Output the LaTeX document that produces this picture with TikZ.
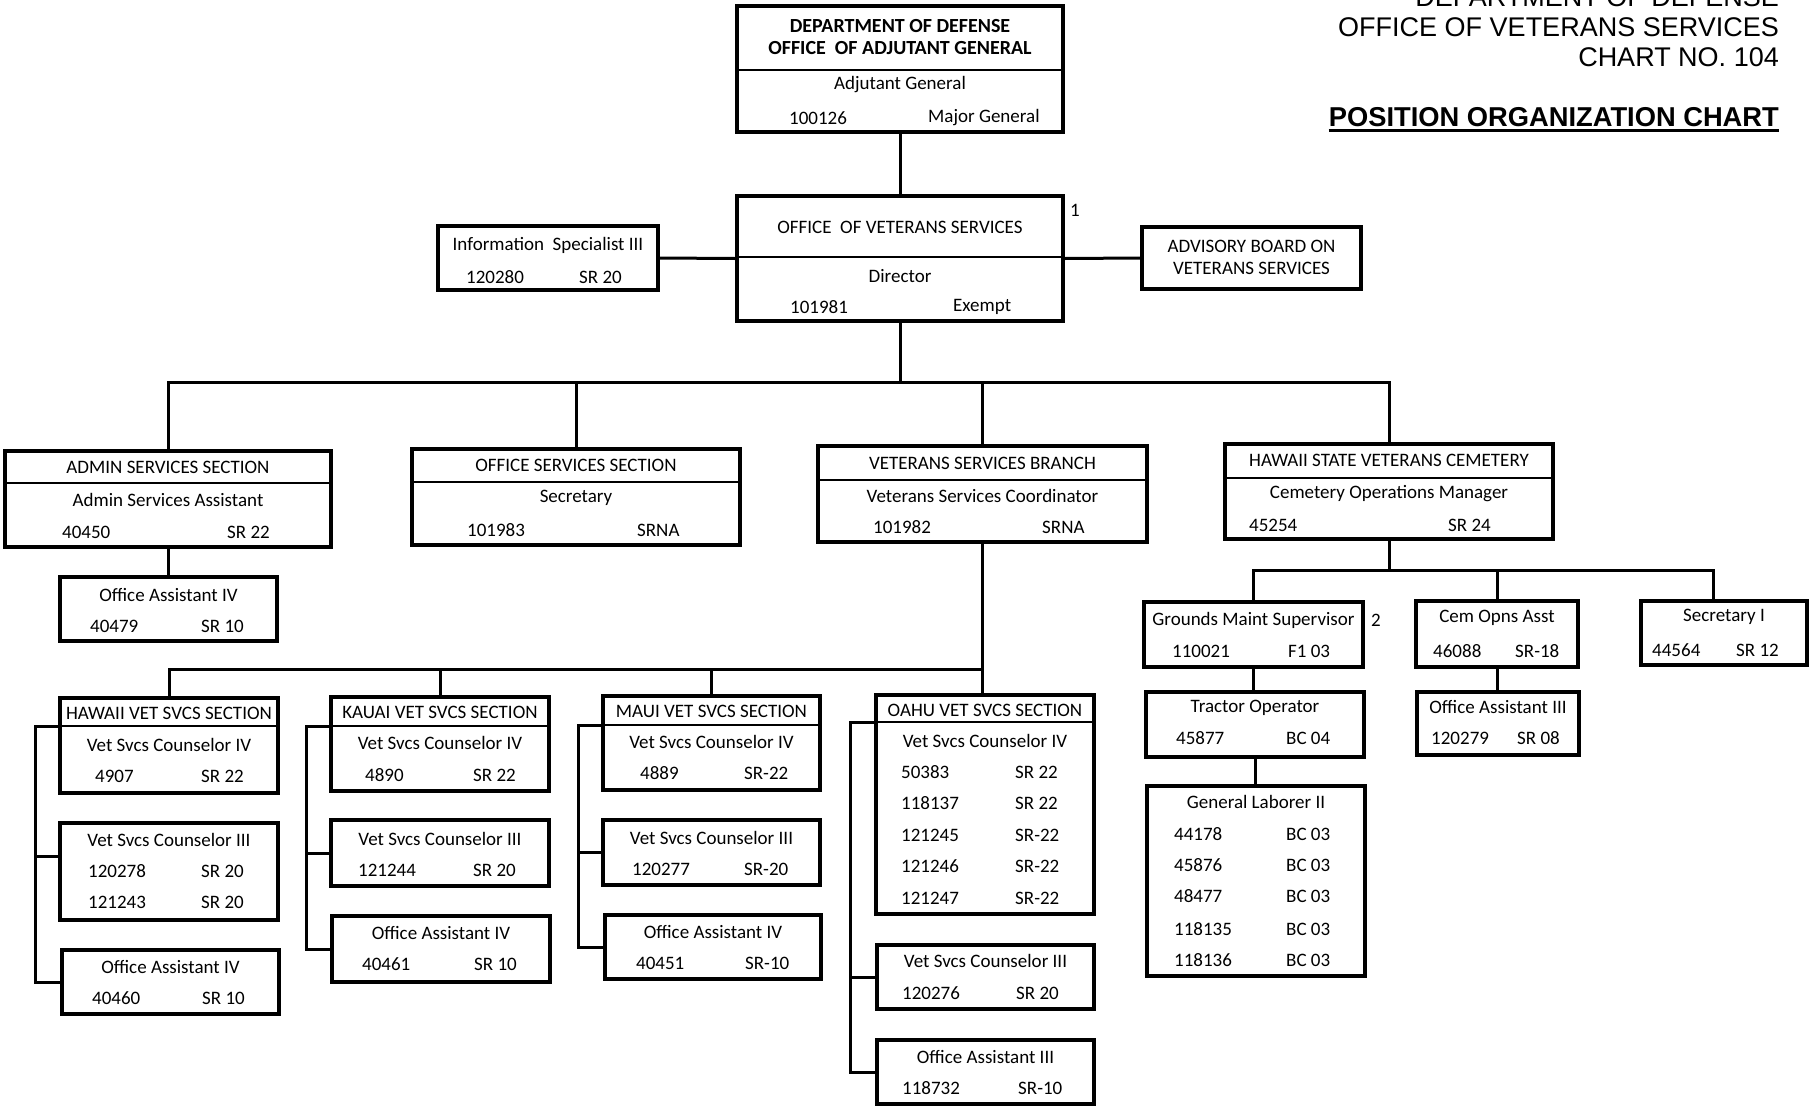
\documentclass[tikz,border=0pt]{standalone}
\usepackage{fontspec}
\setmainfont{Carlito}
\newfontfamily\arialfont{Liberation Sans}
\usetikzlibrary{fit}

\tikzset{
  posbox/.style={draw, line width=3.2pt, inner sep=0pt},
  link/.style={line width=3pt},
  rule/.style={line width=1.6pt},
  txt/.style={inner sep=0pt, font=\fontsize{19}{20}\selectfont},
  num/.style={txt, anchor=west},
  ttl/.style={inner sep=0pt, font=\bfseries\fontsize{20}{21}\selectfont},
  hdr/.style={inner sep=0pt, anchor=east, font=\arialfont\fontsize{27}{30}\selectfont},
}

\begin{document}
\begin{tikzpicture}[x=1pt, y=-1pt]
\useasboundingbox (0,0) rectangle (1809,1106);
\fill[white] (0,0) rectangle (1809,1106);

% chart header
\node[hdr] (hdr0) at (1779,-3) {DEPARTMENT OF DEFENSE};
\node[hdr] (hdr1) at (1779,27) {OFFICE OF VETERANS SERVICES};
\node[hdr] (hdr2) at (1779,57) {CHART NO. 104};
\node[hdr, font=\arialfont\bfseries\fontsize{27.3}{30}\selectfont] (hdr3) at (1779,117) {POSITION ORGANIZATION CHART};
\draw[rule, line width=2.2pt] ([yshift=-4pt]hdr3.base west) -- ([yshift=-4pt]hdr3.base east);

% adjutant general
\node[posbox, fit={(737,6) (1063,132)}] (adjgen) {};
\draw[rule] (737,70) -- (1063,70);
\node[ttl] (adjgen-t1) at (900,26.5) {DEPARTMENT OF DEFENSE};
\node[ttl] (adjgen-t2) at (900,48.5) {OFFICE\ \ OF ADJUTANT GENERAL};
\node[txt] (adjgen-p) at (900,85) {Adjutant General};
\node[num] (adjgen-n) at (789,118) {100126};
\node[num] (adjgen-g) at (928,118) {Major General};

% office of veterans services
\node[posbox, fit={(737,196) (1063,321)}] (ovs) {};
\draw[rule] (737,257) -- (1063,257);
\node[txt] (ovs-t) at (900,227) {OFFICE\ \ OF VETERANS SERVICES};
\node[txt] (ovs-p) at (900,276) {Director};
\node[num] (ovs-n) at (790,307) {101981};
\node[num] (ovs-g) at (953,307) {Exempt};
\node[txt] (note1) at (1075,210) {1};

\node[posbox, fit={(438,226) (658,290)}] (info) {};
\node[txt] (info-p) at (548,245) {Information\ \ Specialist III};
\node[num] (info-n) at (466,277) {120280};
\node[num] (info-g) at (579,277) {SR 20};

\node[posbox, fit={(1142,227) (1361,289)}] (advisory) {};
\node[txt] (advisory-t1) at (1251.5,246) {ADVISORY BOARD ON};
\node[txt] (advisory-t2) at (1251.5,268) {VETERANS SERVICES};

% sections
\node[posbox, fit={(5,451) (331,547)}] (admin) {};
\draw[rule] (5,483) -- (331,483);
\node[txt] (admin-t) at (168,467) {ADMIN SERVICES SECTION};
\node[txt] (admin-p) at (168,500) {Admin Services Assistant};
\node[num] (admin-n) at (62,532) {40450};
\node[num] (admin-g) at (227,532) {SR 22};

\node[posbox, fit={(412,449) (740,545)}] (offsvc) {};
\draw[rule] (412,482) -- (740,482);
\node[txt] (offsvc-t) at (576,465) {OFFICE SERVICES SECTION};
\node[txt] (offsvc-p) at (576,498) {Secretary};
\node[num] (offsvc-n) at (467,530) {101983};
\node[num] (offsvc-g) at (637,530) {SRNA};

\node[posbox, fit={(818,446) (1147,542)}] (vsb) {};
\draw[rule] (818,480) -- (1147,480);
\node[txt] (vsb-t) at (982.5,463) {VETERANS SERVICES BRANCH};
\node[txt] (vsb-p) at (982.5,496) {Veterans Services Coordinator};
\node[num] (vsb-n) at (873,527) {101982};
\node[num] (vsb-g) at (1042,527) {SRNA};

\node[posbox, fit={(1225,444) (1553,539)}] (cem) {};
\draw[rule] (1225,478) -- (1553,478);
\node[txt] (cem-t) at (1389,460) {HAWAII STATE VETERANS CEMETERY};
\node[txt] (cem-p) at (1389,494) {Cemetery Operations Manager};
\node[num] (cem-n) at (1249,525) {45254};
\node[num] (cem-g) at (1448,525) {SR 24};

\node[posbox, fit={(60,577) (277,641)}] (adminoa) {};
\node[txt] (adminoa-p) at (168.5,595) {Office Assistant IV};
\node[num] (adminoa-n) at (90,626) {40479};
\node[num] (adminoa-g) at (201,626) {SR 10};

% hawaii
\node[posbox, fit={(60,698) (278,793)}] (hawaii) {};
\draw[rule] (60,726) -- (278,726);
\node[txt] (hawaii-t) at (169,713) {HAWAII VET SVCS SECTION};
\node[txt] (hawaii-p) at (169,745) {Vet Svcs Counselor IV};
\node[num] (hawaii-n) at (95,776) {4907};
\node[num] (hawaii-g) at (201,776) {SR 22};

\node[posbox, fit={(60,823) (278,920)}] (hawc3) {};
\node[txt] (hawc3-p) at (169,840) {Vet Svcs Counselor III};
\node[num] (hawc3-n1) at (88,871) {120278};
\node[num] (hawc3-g1) at (201,871) {SR 20};
\node[num] (hawc3-n2) at (88,902) {121243};
\node[num] (hawc3-g2) at (201,902) {SR 20};

\node[posbox, fit={(62,950) (279,1014)}] (hawoa) {};
\node[txt] (hawoa-p) at (170.5,967) {Office Assistant IV};
\node[num] (hawoa-n) at (92,998) {40460};
\node[num] (hawoa-g) at (202,998) {SR 10};

% kauai
\node[posbox, fit={(331,697) (549,791)}] (kauai) {};
\draw[rule] (331,726) -- (549,726);
\node[txt] (kauai-t) at (440,712) {KAUAI VET SVCS SECTION};
\node[txt] (kauai-p) at (440,743) {Vet Svcs Counselor IV};
\node[num] (kauai-n) at (365,775) {4890};
\node[num] (kauai-g) at (473,775) {SR 22};

\node[posbox, fit={(331,820) (549,886)}] (kauc3) {};
\node[txt] (kauc3-p) at (440,839) {Vet Svcs Counselor III};
\node[num] (kauc3-n) at (358,870) {121244};
\node[num] (kauc3-g) at (473,870) {SR 20};

\node[posbox, fit={(332,916) (550,982)}] (kauoa) {};
\node[txt] (kauoa-p) at (441,933) {Office Assistant IV};
\node[num] (kauoa-n) at (362,964) {40461};
\node[num] (kauoa-g) at (474,964) {SR 10};

% maui
\node[posbox, fit={(603,696) (820,790)}] (maui) {};
\draw[rule] (603,725) -- (820,725);
\node[txt] (maui-t) at (711.5,711) {MAUI VET SVCS SECTION};
\node[txt] (maui-p) at (711.5,742) {Vet Svcs Counselor IV};
\node[num] (maui-n) at (640,773) {4889};
\node[num] (maui-g) at (744,773) {SR-22};

\node[posbox, fit={(603,820) (820,885)}] (mauc3) {};
\node[txt] (mauc3-p) at (711.5,838) {Vet Svcs Counselor III};
\node[num] (mauc3-n) at (632,869) {120277};
\node[num] (mauc3-g) at (744,869) {SR-20};

\node[posbox, fit={(605,915) (821,979)}] (mauoa) {};
\node[txt] (mauoa-p) at (713,932) {Office Assistant IV};
\node[num] (mauoa-n) at (636,963) {40451};
\node[num] (mauoa-g) at (745,963) {SR-10};

% oahu
\node[posbox, fit={(876,695) (1094,914)}] (oahu) {};
\draw[rule] (876,722) -- (1094,722);
\node[txt] (oahu-t) at (985,710) {OAHU VET SVCS SECTION};
\node[txt] (oahu-p) at (985,741) {Vet Svcs Counselor IV};
\foreach \id/\grade/\yy [count=\i] in {50383/SR 22/772, 118137/SR 22/803, 121245/SR-22/835, 121246/SR-22/866, 121247/SR-22/898}
  {\node[num] (oahu-n\i) at (901,\yy) {\id};
   \node[num] (oahu-g\i) at (1015,\yy) {\grade};}

\node[posbox, fit={(877,945) (1094,1009)}] (oahc3) {};
\node[txt] (oahc3-p) at (985.5,961) {Vet Svcs Counselor III};
\node[num] (oahc3-n) at (902,993) {120276};
\node[num] (oahc3-g) at (1016,993) {SR 20};

\node[posbox, fit={(877,1040) (1094,1104)}] (oahoa) {};
\node[txt] (oahoa-p) at (985.5,1057) {Office Assistant III};
\node[num] (oahoa-n) at (902,1088) {118732};
\node[num] (oahoa-g) at (1018,1088) {SR-10};

% cemetery
\node[posbox, fit={(1144,602) (1363,667)}] (grounds) {};
\node[txt] (grounds-p) at (1253.5,620) {Grounds Maint Supervisor};
\node[num] (grounds-n) at (1172,651) {110021};
\node[num] (grounds-g) at (1288,651) {F1 03};
\node[txt] (note2) at (1376,620) {2};

\node[posbox, fit={(1416,601) (1578,667)}] (cemops) {};
\node[txt] (cemops-p) at (1497,618) {Cem Opns Asst};
\node[num] (cemops-n) at (1433,651) {46088};
\node[num] (cemops-g) at (1515,651) {SR-18};

\node[posbox, fit={(1641,601) (1807,665)}] (sec1) {};
\node[txt] (sec1-p) at (1724,617) {Secretary I};
\node[num] (sec1-n) at (1652,650) {44564};
\node[num] (sec1-g) at (1736,650) {SR 12};

\node[posbox, fit={(1146,692) (1364,757)}] (tractor) {};
\node[txt] (tractor-p) at (1255,708) {Tractor Operator};
\node[num] (tractor-n) at (1176,738) {45877};
\node[num] (tractor-g) at (1286,738) {BC 04};

\node[posbox, fit={(1147,786) (1365,976)}] (laborer) {};
\node[txt] (laborer-p) at (1256,802) {General Laborer II};
\foreach \id/\yy [count=\i] in {44178/834, 45876/865, 48477/896, 118135/929, 118136/960}
  {\node[num] (laborer-n\i) at (1174,\yy) {\id};
   \node[num] (laborer-g\i) at (1286,\yy) {BC 03};}

\node[posbox, fit={(1417,692) (1579,755)}] (cemoa) {};
\node[txt] (cemoa-p) at (1498,707) {Office Assistant III};
\node[num] (cemoa-n) at (1431,738) {120279};
\node[num] (cemoa-g) at (1517,738) {SR 08};

% connectors
\coordinate (bus1) at (900,382);
\draw[link] (adjgen.south) -- (ovs.north);
\draw[link] (info.east) -- (ovs.west);
\draw[link] (ovs.east) -- (advisory.west);
\draw[link] (ovs.south) -- (bus1);
\draw[link] (admin.north) |- (bus1 -| cem.north) -- (cem.north);
\draw[link] (offsvc.north) -- (offsvc.north |- bus1);
\draw[link] (vsb.north) -- (vsb.north |- bus1);
\draw[link] (admin.south) -- (admin.south |- adminoa.north);

\coordinate (bus2) at (982.5,669);
\draw[link] (vsb.south) -- (vsb.south |- oahu.north);
\draw[link] (hawaii.north) |- (bus2);
\draw[link] (kauai.north) -- (kauai.north |- bus2);
\draw[link] (maui.north) -- (maui.north |- bus2);

\coordinate (hawbar) at (35,726);
\draw[link] (hawaii.west |- hawbar) -- (hawbar) |- (hawoa.west);
\draw[link] ([yshift=15.5pt]hawc3.west) -- ([yshift=15.5pt]hawc3.west -| hawbar);
\coordinate (kaubar) at (306,726);
\draw[link] (kauai.west |- kaubar) -- (kaubar) |- (kauoa.west);
\draw[link] (kauc3.west) -- (kauc3.west -| kaubar);
\coordinate (maubar) at (578,725);
\draw[link] (maui.west |- maubar) -- (maubar) |- (mauoa.west);
\draw[link] (mauc3.west) -- (mauc3.west -| maubar);
\coordinate (oahbar) at (850,722);
\draw[link] (oahu.west |- oahbar) -- (oahbar) |- (oahoa.west);
\draw[link] (oahc3.west) -- (oahc3.west -| oahbar);

\coordinate (bus3) at (1389,570);
\coordinate (bus3end) at (1713,570);
\draw[link] (cem.south) -- (bus3);
\draw[link] (grounds.north) |- (bus3end) -- (bus3end |- sec1.north);
\draw[link] (cemops.north) -- (cemops.north |- bus3);
\draw[link] (grounds.south) -- (grounds.south |- tractor.north);
\draw[link] (tractor.south) -- (tractor.south |- laborer.north);
\draw[link] (cemops.south) -- (cemops.south |- cemoa.north);
\end{tikzpicture}
\end{document}
